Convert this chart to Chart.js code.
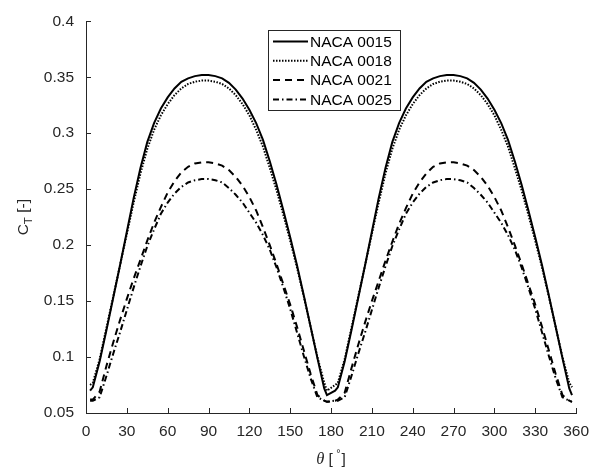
<!DOCTYPE html>
<html>
<head>
<meta charset="utf-8">
<script src="https://cdn.jsdelivr.net/npm/chart.js@4.4.1/dist/chart.umd.min.js"></script>
<style>
    html, body { margin: 0; padding: 0; background: #fff; }
    #wrap { width: 598px; height: 469px; }
</style>
</head>
<body>
<div id="wrap"><canvas id="ctChart" width="598" height="469"></canvas></div>
<script>
// =====================================================
// THRUST COEFFICIENT vs AZIMUTH
// =====================================================
const thetaDeg = [3, 5, 10, 15, 20, 25, 30, 35, 40, 45, 50, 55, 60, 65, 70, 75, 80, 85, 90,
    95, 100, 105, 110, 115, 120, 125, 130, 135, 140, 145, 150, 155, 160, 165, 170, 175, 177,
    183, 185, 190, 195, 200, 205, 210, 215, 220, 225, 230, 235, 240, 245, 250, 255, 260, 265, 270,
    275, 280, 285, 290, 295, 300, 305, 310, 315, 320, 325, 330, 335, 340, 345, 350, 355, 357];

const ctNaca0015 = [0.070, 0.073, 0.096, 0.124, 0.153, 0.182, 0.212, 0.242, 0.269, 0.292, 0.309, 0.322, 0.332, 0.340, 0.346, 0.349, 0.351, 0.352, 0.352,
    0.351, 0.349, 0.345, 0.339, 0.331, 0.321, 0.309, 0.294, 0.275, 0.254, 0.231, 0.207, 0.182, 0.155, 0.127, 0.099, 0.072, 0.066,
    0.070, 0.073, 0.096, 0.124, 0.153, 0.182, 0.212, 0.242, 0.269, 0.292, 0.309, 0.322, 0.332, 0.340, 0.346, 0.349, 0.351, 0.352, 0.352,
    0.351, 0.349, 0.345, 0.339, 0.331, 0.321, 0.309, 0.294, 0.275, 0.254, 0.231, 0.207, 0.182, 0.155, 0.127, 0.099, 0.072, 0.066];

const ctNaca0018 = [0.075, 0.077, 0.098, 0.126, 0.154, 0.182, 0.210, 0.238, 0.264, 0.286, 0.303, 0.316, 0.326, 0.334, 0.340, 0.344, 0.346, 0.347, 0.347,
    0.346, 0.344, 0.340, 0.334, 0.326, 0.316, 0.303, 0.288, 0.269, 0.249, 0.227, 0.204, 0.180, 0.154, 0.127, 0.100, 0.077, 0.070,
    0.075, 0.077, 0.098, 0.126, 0.154, 0.182, 0.210, 0.238, 0.264, 0.286, 0.303, 0.316, 0.326, 0.334, 0.340, 0.344, 0.346, 0.347, 0.347,
    0.346, 0.344, 0.340, 0.334, 0.326, 0.316, 0.303, 0.288, 0.269, 0.249, 0.227, 0.204, 0.180, 0.154, 0.127, 0.100, 0.077, 0.073];

const ctNaca0021 = [0.062, 0.062, 0.069, 0.092, 0.113, 0.133, 0.152, 0.170, 0.187, 0.204, 0.220, 0.234, 0.247, 0.257, 0.265, 0.270, 0.273, 0.274, 0.274,
    0.273, 0.271, 0.267, 0.261, 0.253, 0.243, 0.231, 0.216, 0.200, 0.183, 0.165, 0.147, 0.127, 0.106, 0.085, 0.066, 0.061, 0.060,
    0.061, 0.062, 0.068, 0.090, 0.111, 0.131, 0.150, 0.168, 0.186, 0.203, 0.219, 0.233, 0.246, 0.256, 0.264, 0.270, 0.273, 0.274, 0.274,
    0.273, 0.271, 0.267, 0.261, 0.253, 0.243, 0.231, 0.216, 0.200, 0.183, 0.165, 0.147, 0.127, 0.106, 0.085, 0.066, 0.061, 0.060];

const ctNaca0025 = [0.061, 0.061, 0.064, 0.083, 0.103, 0.122, 0.142, 0.162, 0.181, 0.199, 0.214, 0.228, 0.238, 0.246, 0.252, 0.256, 0.258, 0.259, 0.259,
    0.258, 0.256, 0.251, 0.245, 0.238, 0.229, 0.220, 0.209, 0.196, 0.180, 0.162, 0.143, 0.122, 0.101, 0.081, 0.064, 0.061, 0.060,
    0.061, 0.061, 0.064, 0.083, 0.103, 0.122, 0.142, 0.162, 0.181, 0.199, 0.214, 0.228, 0.238, 0.246, 0.252, 0.256, 0.258, 0.259, 0.259,
    0.258, 0.256, 0.251, 0.245, 0.238, 0.229, 0.220, 0.209, 0.196, 0.180, 0.162, 0.143, 0.122, 0.101, 0.081, 0.064, 0.061, 0.060];

const seriesNames = ['NACA 0015', 'NACA 0018', 'NACA 0021', 'NACA 0025'];

const xTicks = [0, 30, 60, 90, 120, 150, 180, 210, 240, 270, 300, 330, 360];
const xTickLabels = ['0', '30', '60', '90', '120', '150', '180', '210', '240', '270', '300', '330', '360'];
const yTicks = [0.05, 0.1, 0.15, 0.2, 0.25, 0.3, 0.35, 0.4];
const yTickLabels = ['0.05', '0.1', '0.15', '0.2', '0.25', '0.3', '0.35', '0.4'];

const AXIS_COLOR = '#262626';
const FONT_FAMILY = '"Liberation Sans", Arial, Helvetica, sans-serif';
const FONT_SIZE = 15.5;

// line styles per profile: solid, dotted, dashed, dash-dot
const lineStyles = [
    { width: 2, dash: [] },
    { width: 2, dash: [1.5, 1.5] },
    { width: 2, dash: [7, 5] },
    { width: 2, dash: [6, 3, 1.5, 3] }
];

const seriesValues = [ctNaca0015, ctNaca0018, ctNaca0021, ctNaca0025];

function toPoints(values) {
    return thetaDeg.map((t, i) => ({ x: t, y: values[i] }));
}

// inward tick marks like the plotting package draws them
const inwardTicks = {
    id: 'inwardTicks',
    afterDraw(chart) {
        const { ctx, chartArea, scales } = chart;
        ctx.save();
        ctx.strokeStyle = AXIS_COLOR;
        ctx.lineWidth = 1;
        ctx.beginPath();
        xTicks.forEach(v => {
            const px = Math.round(scales.x.getPixelForValue(v)) + 0.5;
            ctx.moveTo(px, chartArea.bottom);
            ctx.lineTo(px, chartArea.bottom - 5);
        });
        yTicks.forEach(v => {
            const py = Math.round(scales.y.getPixelForValue(v)) + 0.5;
            ctx.moveTo(chartArea.left, py);
            ctx.lineTo(chartArea.left + 5, py);
        });
        ctx.stroke();
        ctx.restore();
    }
};

// axis titles with sub/superscripts
const axisTitles = {
    id: 'axisTitles',
    afterDraw(chart) {
        const { ctx, chartArea } = chart;
        ctx.save();
        ctx.fillStyle = AXIS_COLOR;
        ctx.textBaseline = 'alphabetic';

        // y title: C_T [-], rotated
        ctx.translate(28, (chartArea.top + chartArea.bottom) / 2);
        ctx.rotate(-Math.PI / 2);
        const mainFont = FONT_SIZE + 'px ' + FONT_FAMILY;
        const subFont = (FONT_SIZE * 0.75) + 'px ' + FONT_FAMILY;
        ctx.font = mainFont;
        const wC = ctx.measureText('C').width;
        const wRest = ctx.measureText(' [-]').width;
        ctx.font = subFont;
        const wT = ctx.measureText('T').width;
        let x = -(wC + wT + wRest) / 2;
        ctx.font = mainFont;
        ctx.fillText('C', x, 0);
        x += wC;
        ctx.font = subFont;
        ctx.fillText('T', x, 4);
        x += wT;
        ctx.font = mainFont;
        ctx.fillText(' [-]', x, 0);
        ctx.setTransform(1, 0, 0, 1, 0, 0);

        // x title: theta [deg]
        const thetaFont = 'italic ' + (FONT_SIZE + 1) + 'px "Liberation Serif", "DejaVu Serif", serif';
        const degFont = (FONT_SIZE * 0.7) + 'px ' + FONT_FAMILY;
        ctx.font = thetaFont;
        const wTh = ctx.measureText('θ').width;
        ctx.font = mainFont;
        const wOpen = ctx.measureText(' [ ').width;
        const wClose = ctx.measureText(']').width;
        ctx.font = degFont;
        const wDeg = ctx.measureText('°').width;
        let xx = (chartArea.left + chartArea.right) / 2 - (wTh + wOpen + wDeg + wClose) / 2;
        const base = 464;
        ctx.font = thetaFont;
        ctx.fillText('θ', xx, base);
        xx += wTh;
        ctx.font = mainFont;
        ctx.fillText(' [ ', xx, base);
        xx += wOpen;
        ctx.font = degFont;
        ctx.fillText('°', xx - 1, base - 7);
        xx += wDeg;
        ctx.font = mainFont;
        ctx.fillText(']', xx, base);
        ctx.restore();
    }
};

// boxed legend inside the plot
const boxLegend = {
    id: 'boxLegend',
    afterDraw(chart) {
        const { ctx } = chart;
        const left = 268, top = 30, width = 132, height = 80;
        const rowH = 19.3;
        ctx.save();
        ctx.fillStyle = '#fff';
        ctx.fillRect(left, top, width, height);
        ctx.strokeStyle = AXIS_COLOR;
        ctx.lineWidth = 1;
        ctx.strokeRect(left + 0.5, top + 0.5, width, height);
        ctx.font = FONT_SIZE + 'px ' + FONT_FAMILY;
        ctx.textBaseline = 'middle';
        seriesNames.forEach((name, i) => {
            const y = top + 11.5 + i * rowH;
            ctx.strokeStyle = '#000';
            ctx.lineWidth = lineStyles[i].width;
            ctx.setLineDash(lineStyles[i].dash);
            ctx.beginPath();
            ctx.moveTo(left + 5, y);
            ctx.lineTo(left + 40, y);
            ctx.stroke();
            ctx.setLineDash([]);
            ctx.fillStyle = '#000';
            ctx.fillText(name, left + 42, y + 1);
        });
        ctx.restore();
    }
};

const ctx = document.getElementById('ctChart').getContext('2d');
const ctChart = new Chart(ctx, {
    type: 'scatter',
    data: {
        datasets: seriesNames.map((name, i) => ({
            label: name,
            data: toPoints(seriesValues[i]),
            showLine: true,
            borderColor: '#000',
            borderWidth: lineStyles[i].width,
            borderDash: lineStyles[i].dash,
            pointRadius: 0,
            tension: 0,
            fill: false
        }))
    },
    options: {
        responsive: false,
        animation: false,
        layout: { padding: { left: 0, right: 13, top: 19, bottom: 0 } },
        plugins: { legend: { display: false }, tooltip: { enabled: false } },
        scales: {
            x: {
                type: 'linear',
                min: 0,
                max: 360,
                afterBuildTicks: s => { s.ticks = xTicks.map(v => ({ value: v })); },
                afterFit: s => { s.height = 56; },
                grid: { display: false, drawTicks: false },
                border: { display: true, color: AXIS_COLOR, width: 1 },
                ticks: {
                    padding: 9,
                    maxRotation: 0,
                    color: AXIS_COLOR,
                    font: { family: FONT_FAMILY, size: FONT_SIZE },
                    callback: v => xTickLabels[xTicks.indexOf(v)]
                }
            },
            y: {
                min: 0.05,
                max: 0.4,
                afterBuildTicks: s => { s.ticks = yTicks.map(v => ({ value: v })); },
                afterFit: s => { s.width = 86; },
                grid: { display: false, drawTicks: false },
                border: { display: true, color: AXIS_COLOR, width: 1 },
                ticks: {
                    padding: 12,
                    color: AXIS_COLOR,
                    font: { family: FONT_FAMILY, size: FONT_SIZE },
                    callback: v => yTickLabels[yTicks.indexOf(v)]
                }
            }
        }
    },
    plugins: [inwardTicks, axisTitles, boxLegend]
});
</script>
</body>
</html>
